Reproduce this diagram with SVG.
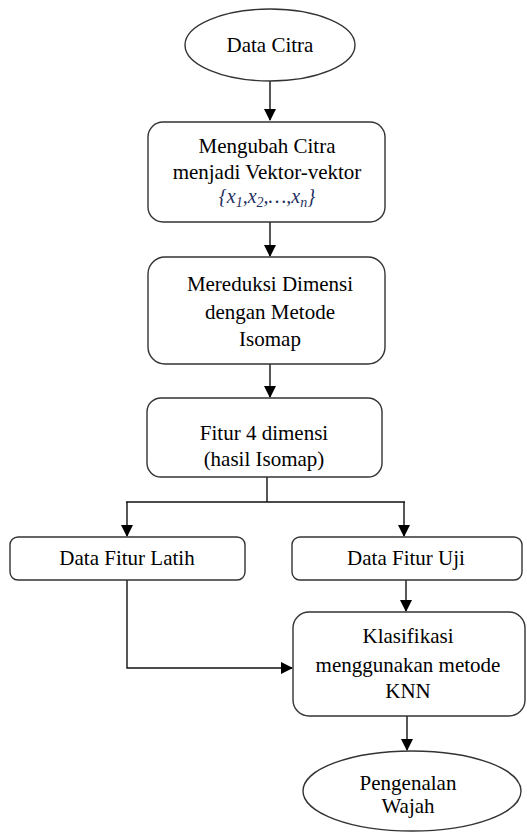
<svg xmlns="http://www.w3.org/2000/svg" width="527" height="832" viewBox="0 0 527 832">
<defs>
<marker id="arr" markerWidth="12" markerHeight="12" refX="11" refY="6" orient="auto" markerUnits="userSpaceOnUse">
<path d="M0,0 L12,6 L0,12 Z" fill="#000"/>
</marker>
<style>
.n{fill:#fff;stroke:#333;stroke-width:1.4}
.t{font-family:"Liberation Serif","Times New Roman",Tinos,serif;font-size:21px;fill:#000;text-anchor:middle}
.m{font-family:"Liberation Serif","Times New Roman",serif;font-style:italic;font-size:20px;fill:#1f2f5f;text-anchor:middle}
.c{fill:none;stroke:#111;stroke-width:1.4}
</style>
</defs>
<rect width="527" height="832" fill="#fff"/>
<g id="connectors">
<path class="c" d="M270,81 V120" marker-end="url(#arr)"/>
<path class="c" d="M270,222 V256" marker-end="url(#arr)"/>
<path class="c" d="M270,364 V397" marker-end="url(#arr)"/>
<path class="c" d="M267,477 V502 M126,502 H405"/>
<path class="c" d="M127,502 V536" marker-end="url(#arr)"/>
<path class="c" d="M404,502 V536" marker-end="url(#arr)"/>
<path class="c" d="M406,580 V611" marker-end="url(#arr)"/>
<path class="c" d="M127,580 V668 H292" marker-end="url(#arr)"/>
<path class="c" d="M407,716 V750" marker-end="url(#arr)"/>
</g>
<g id="data-citra">
<ellipse class="n" cx="270" cy="45" rx="85" ry="36"/>
<text class="t" x="270" y="52">Data Citra</text>
</g>
<g id="mengubah">
<rect class="n" x="148" y="122" width="237" height="100" rx="15"/>
<text class="t" x="267" y="153">Mengubah Citra</text>
<text class="t" x="267" y="179">menjadi Vektor-vektor</text>
<text class="m" x="267" y="203">{x<tspan font-size="14" dy="4">1</tspan><tspan dy="-4">,x</tspan><tspan font-size="14" dy="4">2</tspan><tspan dy="-4">,…,x</tspan><tspan font-size="14" dy="4">n</tspan><tspan dy="-4">}</tspan></text>
</g>
<g id="mereduksi">
<rect class="n" x="148" y="257" width="237" height="107" rx="17"/>
<text class="t" x="270" y="291">Mereduksi Dimensi</text>
<text class="t" x="270" y="319">dengan Metode</text>
<text class="t" x="270" y="346">Isomap</text>
</g>
<g id="fitur">
<rect class="n" x="147" y="398" width="235" height="79" rx="14"/>
<text class="t" x="264" y="440">Fitur 4 dimensi</text>
<text class="t" x="264" y="466">(hasil Isomap)</text>
</g>
<g id="latih">
<rect class="n" x="10" y="537" width="235" height="43" rx="8"/>
<text class="t" x="127" y="565">Data Fitur Latih</text>
</g>
<g id="uji">
<rect class="n" x="292" y="537" width="230" height="43" rx="8"/>
<text class="t" x="406" y="565">Data Fitur Uji</text>
</g>
<g id="klasifikasi">
<rect class="n" x="293" y="612" width="232" height="104" rx="16"/>
<text class="t" x="408" y="643">Klasifikasi</text>
<text class="t" x="408" y="672">menggunakan metode</text>
<text class="t" x="408" y="698">KNN</text>
</g>
<g id="pengenalan">
<ellipse class="n" cx="412" cy="791" rx="109" ry="40"/>
<text class="t" x="408" y="790">Pengenalan</text>
<text class="t" x="408" y="813">Wajah</text>
</g>
</svg>
